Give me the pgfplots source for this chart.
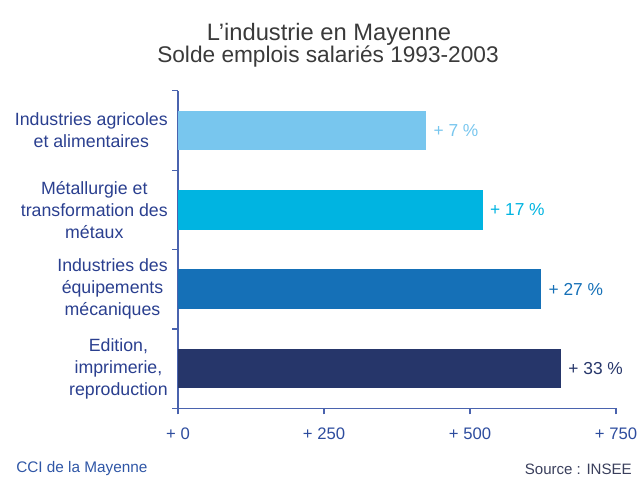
\documentclass[border=0pt]{standalone}
\usepackage{pgfplots}
\pgfplotsset{compat=1.18}
\usepackage{fontspec}
\setmainfont{Liberation Sans}
\definecolor{cA}{HTML}{78C6EE}
\definecolor{cB}{HTML}{00B4E1}
\definecolor{cC}{HTML}{1570B7}
\definecolor{cD}{HTML}{26366A}
\definecolor{axisblue}{HTML}{4A63AE}
\definecolor{tickblue}{HTML}{2D4C9E}
\definecolor{catblue}{HTML}{2A3F8F}
\definecolor{titlegray}{HTML}{3A3A3A}
\definecolor{footblue}{HTML}{2F56A6}
\definecolor{footgray}{HTML}{3A3F5C}
\begin{document}
\begin{tikzpicture}[x=0.75pt,y=0.75pt]
\path[use as bounding box] (0,0) rectangle (638,480);
\node[inner sep=0pt,text=titlegray,font=\fontsize{17.8}{20}\selectfont] at (329,446) {L’industrie en Mayenne};
\node[inner sep=0pt,text=titlegray,font=\fontsize{17}{20}\selectfont] at (328,423) {Solde emplois salariés 1993-2003};
\coordinate (A) at (178,71.7);
\begin{axis}[
  at={(A)}, anchor=south west,
  scale only axis, width=328.5pt, height=238.2pt,
  xbar, bar shift=0pt, bar width=0.5,
  xmin=0, xmax=750, ymin=-0.5, ymax=3.5,
  axis x line*=bottom, axis y line*=left,
  x axis line style={-}, y axis line style={-},
  axis line style={axisblue, line width=0.9pt},
  tick style={axisblue, line width=0.9pt},
  tick align=outside,
  major tick length=4.5pt,
  /pgf/number format/assume math mode=true,
  xtick={0,250,500,750},
  xticklabels={+ 0,+ 250,+ 500,+ 750},
  xticklabel style={font=\fontsize{12.5}{15}\selectfont, text=tickblue, yshift=-7pt},
  ytick={-0.5,0.5,1.5,2.5,3.5},
  yticklabels={},
  every node near coord/.append style={font=\fontsize{13}{15}\selectfont, xshift=2pt},
  clip=false,
]
\addplot[fill=cA, draw=none, nodes near coords={+ 7 \%}, every node near coord/.append style={text=cA}] coordinates {(425,3)};
\addplot[fill=cB, draw=none, nodes near coords={+ 17 \%}, every node near coord/.append style={text=cB}] coordinates {(522,2)};
\addplot[fill=cC, draw=none, nodes near coords={+ 27 \%}, every node near coord/.append style={text=cC}] coordinates {(622,1)};
\addplot[fill=cD, draw=none, nodes near coords={+ 33 \%}, every node near coord/.append style={text=cD}] coordinates {(656,0)};
\begin{scope}[every node/.style={anchor=east, align=center, inner sep=0pt, text=catblue, font=\fontsize{13.3}{16.5}\selectfont, xshift=-7.5pt}]
\node at (axis cs:0,3) {Industries agricoles\\et alimentaires};
\node at (axis cs:0,2) {Métallurgie et\\transformation des\\métaux};
\node at (axis cs:0,1) {Industries des\\équipements\\mécaniques};
\node at (axis cs:0,0) {Edition,\\imprimerie,\\reproduction};
\end{scope}
\end{axis}
\node[anchor=west,inner sep=0pt,text=footblue,font=\fontsize{11.5}{14}\selectfont] at (16,11) {CCI de la Mayenne};
\node[anchor=east,inner sep=0pt,text=footgray,font=\fontsize{11.3}{14}\selectfont] at (632,11) {Source : INSEE};
\end{tikzpicture}
\end{document}
